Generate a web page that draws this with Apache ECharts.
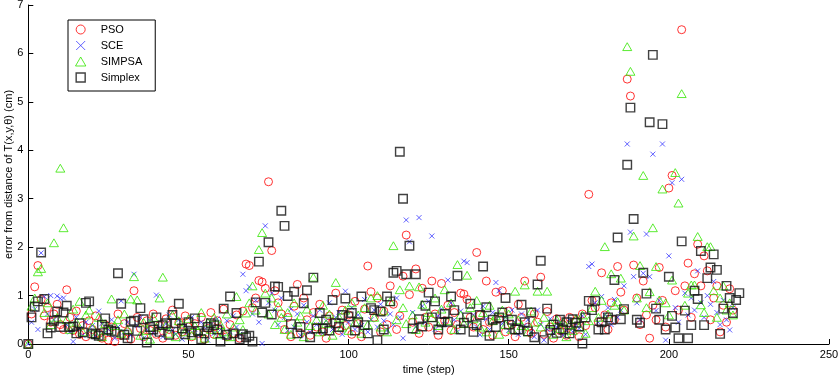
<!DOCTYPE html>
<html>
<head>
<meta charset="utf-8">
<script src="https://cdn.jsdelivr.net/npm/echarts@6/dist/echarts.min.js"></script>
<style>
html,body{margin:0;padding:0;background:#fff;}
#chart{width:839px;height:377px;}
</style>
</head>
<body>
<div id="chart"></div>
<script>
// Series names
const seriesNames = ['PSO', 'SCE', 'SIMPSA', 'Simplex'];
// x ticks / y ticks
const xTicks = [0, 50, 100, 150, 200, 250];
const yTicks = [0, 1, 2, 3, 4, 5, 6, 7];
const xTitle = 'time (step)';
const yTitle = 'error from distance of T(x,y,\u03b8) (cm)';

// values per time step (index = step)
const psoValues = [
0.00,0.62,1.18,1.62,0.92,0.58,0.75,0.45,0.62,0.82,
0.40,0.30,1.12,0.55,0.28,0.68,0.20,0.38,0.15,0.48,
0.30,0.58,0.22,0.12,0.40,0.08,0.35,0.05,0.62,0.18,
0.42,0.25,0.10,1.10,0.55,0.32,0.15,0.48,0.28,0.62,
0.20,0.38,0.12,0.52,0.30,0.70,0.18,0.45,0.25,0.58,
0.35,0.15,0.42,0.22,0.55,0.10,0.32,0.65,0.20,0.48,
0.28,0.72,0.15,0.40,0.22,0.60,0.12,0.68,1.65,1.62,
0.75,0.95,1.31,1.28,1.15,3.35,1.93,1.10,0.85,0.62,
0.30,0.55,0.15,0.78,1.23,0.22,0.95,0.50,0.18,0.65,
0.35,0.82,0.25,0.12,0.58,0.45,1.05,0.28,0.70,0.38,
0.60,0.20,0.88,0.42,0.15,0.72,1.61,1.08,0.55,0.95,
0.25,0.68,0.40,1.20,0.82,0.30,0.58,1.40,2.25,1.02,
0.45,1.55,0.22,1.15,0.55,0.35,1.30,0.62,0.18,1.25,
0.48,0.80,0.28,0.65,0.40,1.05,1.03,0.92,0.55,0.35,
1.89,0.60,0.30,1.30,0.45,0.18,1.07,0.52,1.10,0.25,
0.68,0.40,0.15,0.82,0.55,1.30,0.35,0.22,0.62,0.45,
1.38,0.20,0.67,0.35,0.12,0.52,0.28,0.40,0.18,0.55,
0.30,0.48,0.15,0.62,0.38,3.09,0.90,0.75,0.45,1.47,
0.60,0.30,0.85,0.50,1.60,1.07,0.70,5.47,5.12,1.63,
0.95,0.40,1.30,0.60,0.12,0.80,0.50,1.58,0.90,0.35,
3.22,3.48,1.10,0.70,6.49,1.20,1.67,0.55,1.45,2.06,
1.20,1.82,1.51,0.50,0.95,1.20,0.25,0.80,0.45,1.14,
0.70
];
const sceValues = [
0.00,0.45,0.72,0.30,1.88,0.98,0.62,1.00,0.50,0.99,
0.94,0.95,0.40,0.25,0.05,0.55,0.32,0.18,0.45,0.28,
0.38,0.15,0.68,0.42,0.22,0.30,0.50,0.12,0.35,0.89,
0.25,0.45,0.18,1.44,0.38,0.55,0.12,0.30,0.48,0.22,
1.01,0.35,0.15,0.42,0.60,0.28,0.20,0.50,0.10,0.38,
0.25,0.55,0.30,0.18,0.45,0.35,0.08,0.40,0.22,0.52,
0.30,0.15,0.48,0.25,0.58,0.35,0.20,1.44,1.10,1.18,
0.62,0.90,0.45,0.01,2.44,0.85,1.05,0.70,0.40,0.95,
0.55,0.28,0.72,0.35,0.62,0.18,0.80,0.45,0.25,0.58,
0.40,0.70,0.22,0.48,0.85,0.30,0.55,0.65,0.20,1.09,
0.45,0.75,0.30,0.60,0.38,0.92,0.25,0.50,0.70,0.35,
0.82,0.48,0.28,0.62,0.40,0.95,0.55,0.12,2.56,2.11,
0.65,0.35,2.61,0.78,0.45,0.88,2.23,0.30,0.58,0.72,
0.40,1.32,0.85,0.50,0.25,0.68,1.71,1.68,0.45,0.60,
0.35,0.19,0.78,0.52,0.30,0.65,1.27,1.10,0.42,0.55,
0.28,0.70,0.45,0.20,0.62,0.38,0.50,0.25,0.15,0.70,
0.40,0.08,0.30,0.52,0.22,0.35,0.45,0.18,0.28,0.50,
0.25,0.40,0.32,0.58,0.20,1.60,1.65,0.85,0.45,0.98,
0.60,0.75,0.40,0.92,0.55,0.70,1.20,4.13,2.31,1.39,
0.85,0.50,1.46,2.27,1.39,3.92,0.69,0.90,4.13,0.08,
1.82,3.33,0.75,0.45,3.40,1.05,0.60,0.95,0.70,1.51,
0.85,0.55,1.00,0.82,1.29,0.65,0.40,0.90,0.50,0.29,
0.75
];
const simpsaValues = [
0.00,0.78,0.95,1.49,1.56,0.65,0.85,0.40,2.09,0.55,
3.63,2.40,0.50,0.30,0.72,0.45,0.88,0.25,0.60,0.70,
0.35,0.20,0.55,0.15,0.42,0.28,0.93,0.38,0.50,0.22,
0.62,0.30,0.93,1.39,0.91,0.18,0.45,0.28,0.10,0.55,
0.35,0.95,1.38,0.40,0.22,0.60,0.15,0.48,0.32,0.25,
0.52,0.18,0.38,0.28,0.65,0.12,0.45,0.30,0.55,0.20,
0.40,0.25,0.62,0.15,0.35,0.98,0.50,0.30,0.64,0.85,
1.20,0.70,1.95,2.30,1.05,0.62,0.95,0.40,0.78,0.55,
0.30,0.65,0.20,0.85,0.45,0.58,0.15,0.72,0.38,1.38,
0.50,0.25,0.80,0.42,0.62,0.18,1.27,0.55,0.35,0.70,
0.28,0.85,0.45,0.60,0.22,0.75,0.40,0.95,0.55,1.00,
0.35,0.68,0.25,0.88,2.03,0.50,1.12,0.75,0.42,1.20,
0.60,0.30,1.18,0.82,0.45,0.65,0.55,0.95,0.38,0.72,
1.12,0.48,0.85,0.30,1.64,0.60,0.42,1.42,0.75,0.52,
0.90,0.35,0.65,0.25,0.80,0.48,0.58,0.20,0.70,0.40,
0.62,0.30,1.09,0.50,0.38,1.22,0.25,0.68,0.45,1.09,
0.35,0.55,1.09,0.42,0.20,0.50,0.32,0.45,0.15,0.40,
0.28,0.52,0.35,0.60,0.22,0.48,0.75,1.09,0.55,0.90,
2.01,0.62,1.45,0.80,0.87,1.36,0.70,6.14,5.63,2.23,
0.95,1.62,3.48,0.75,1.08,2.40,1.60,0.91,3.20,0.85,
0.60,1.32,3.54,2.91,5.17,0.80,1.05,1.22,1.22,2.22,
0.81,0.65,2.01,2.01,1.10,0.55,0.95,1.20,0.70,0.85,
0.60
];
const simplexValues = [
0.00,0.55,0.77,0.88,1.89,0.93,0.22,0.34,0.48,0.67,
0.35,0.65,0.79,0.35,0.36,0.22,0.43,0.24,0.85,0.88,
0.22,0.20,0.17,0.40,0.53,0.30,0.27,0.25,1.46,0.83,
0.19,0.12,0.46,0.48,0.27,0.74,0.51,0.03,0.35,0.30,
0.55,0.25,0.39,0.43,0.19,0.60,0.43,0.83,0.32,0.20,
0.45,0.24,0.53,0.27,0.10,0.22,0.35,0.43,0.39,0.30,
0.05,0.73,0.19,0.98,0.22,0.64,0.10,0.20,0.14,0.17,
0.05,0.86,1.70,0.65,0.85,2.10,0.61,1.19,1.18,2.75,
2.44,0.99,0.41,1.08,0.22,0.35,0.84,1.11,0.14,1.37,
0.32,0.64,0.32,0.50,0.28,0.91,0.43,0.35,0.60,0.94,
0.57,0.64,0.28,0.45,0.98,0.39,0.22,0.74,0.70,0.08,
0.67,0.30,0.98,0.88,1.47,1.51,3.97,3.00,1.44,2.03,
0.32,1.44,0.51,0.36,0.79,1.06,0.55,0.88,0.30,0.45,
0.62,0.46,0.98,0.70,1.41,0.30,0.44,0.55,0.83,0.25,
0.39,0.60,1.60,0.76,0.17,0.50,0.35,0.55,0.65,0.95,
0.40,0.50,0.30,0.30,0.81,0.45,0.26,0.65,0.14,1.23,
1.72,0.08,0.73,0.29,0.40,0.23,0.50,0.30,0.45,0.22,
0.51,0.44,0.36,0.01,0.55,0.89,0.70,0.89,0.30,0.45,
0.30,0.55,0.50,1.32,2.20,0.51,0.72,3.70,4.88,2.58,
0.50,0.44,1.47,1.04,4.58,5.97,0.73,0.50,4.54,0.30,
1.39,0.58,0.34,0.12,2.12,0.69,0.12,0.39,1.10,0.93,
1.92,0.39,1.36,1.58,1.85,1.53,0.21,0.73,1.20,0.95,
0.64,0.91,1.05
];

const toPoints = arr => arr.map((v, i) => [i, v]);

const FONT = 'Liberation Sans, Arial, sans-serif';
const chart = echarts.init(document.getElementById('chart'), null, {renderer: 'canvas'});

// marker shapes as paths (kept square in the legend)
const xMark = 'path://M0,0L10,10M10,0L0,10';
const triMark = 'path://M5,0L10,8.7L0,8.7Z';
const sqMark = 'path://M0,0L10,0L10,10L0,10Z';

const seriesDefs = [
  {name: seriesNames[0], data: psoValues, symbol: 'circle', size: 8,
   style: {color: 'rgba(0,0,0,0)', borderColor: '#ff0000', borderWidth: 1}},
  {name: seriesNames[1], data: sceValues, symbol: xMark, size: 5,
   style: {color: 'rgba(0,0,0,0)', borderColor: '#3a3aff', borderWidth: 1}},
  {name: seriesNames[2], data: simpsaValues, symbol: triMark, size: 9,
   style: {color: 'rgba(0,0,0,0)', borderColor: '#33e600', borderWidth: 1}},
  {name: seriesNames[3], data: simplexValues, symbol: sqMark, size: 8.5,
   style: {color: 'rgba(0,0,0,0)', borderColor: '#111111', borderWidth: 1.4}}
];

const option = {
  animation: false,
  backgroundColor: '#ffffff',
  textStyle: {fontFamily: FONT},
  grid: {left: 28.3, right: 10, top: 5, bottom: 33, containLabel: false, outerBoundsMode: 'none'},
  legend: {
    orient: 'vertical',
    left: 68, top: 20,
    backgroundColor: '#ffffff',
    borderColor: '#000000',
    borderWidth: 1,
    padding: [4, 13, 8, 7],
    itemWidth: 30, itemHeight: 9, itemGap: 5,
    symbolKeepAspect: true,
    textStyle: {fontFamily: FONT, fontSize: 11, color: '#000'},
    data: seriesDefs.map(s => ({name: s.name, icon: s.symbol, itemStyle: s.style, symbolKeepAspect: true}))
  },
  xAxis: {
    type: 'value', min: 0, max: 250, interval: 50,
    name: xTitle, nameLocation: 'middle', nameGap: 20, nameMoveOverlap: false,
    nameTextStyle: {fontFamily: FONT, fontSize: 11, color: '#000'},
    axisLine: {onZero: false, lineStyle: {color: '#000', width: 1}},
    axisTick: {inside: true, length: 5, lineStyle: {color: '#000'}},
    axisLabel: {fontFamily: FONT, fontSize: 11, color: '#000', margin: 5,
      formatter: v => xTicks.includes(v) ? String(v) : ''},
    splitLine: {show: false}
  },
  yAxis: {
    type: 'value', min: 0, max: 7, interval: 1,
    name: yTitle, nameLocation: 'middle', nameGap: 14, nameRotate: 90, nameMoveOverlap: false,
    nameTextStyle: {fontFamily: FONT, fontSize: 11, color: '#000'},
    axisLine: {onZero: false, lineStyle: {color: '#000', width: 1}},
    axisTick: {inside: true, length: 5, lineStyle: {color: '#000'}},
    axisLabel: {fontFamily: FONT, fontSize: 11, color: '#000', margin: 5,
      formatter: v => yTicks.includes(v) ? String(v) : ''},
    splitLine: {show: false}
  },
  series: seriesDefs.map(s => ({
    name: s.name, type: 'scatter',
    data: toPoints(s.data),
    symbol: s.symbol, symbolSize: s.size, symbolKeepAspect: true,
    itemStyle: s.style,
    emphasis: {disabled: true},
    clip: false
  }))
};
chart.setOption(option);
</script>
</body>
</html>
